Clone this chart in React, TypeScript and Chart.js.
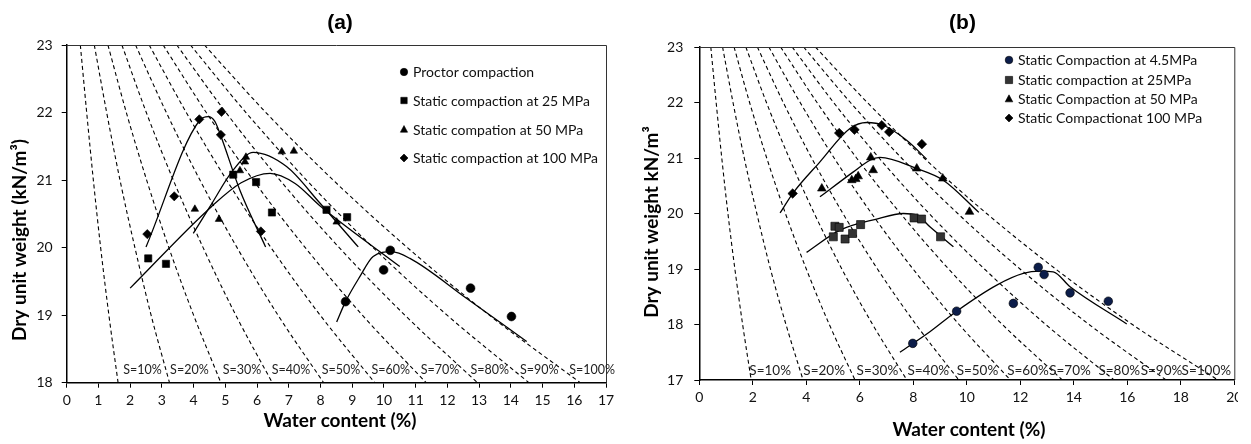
import React, { useEffect, useRef } from 'react';
import Chart from 'chart.js/auto';

const SANS = 'Lato, "Noto Sans", sans-serif';

// ---------- saturation line labels (shared) ----------
const satLabels = ['S=10%', 'S=20%', 'S=30%', 'S=40%', 'S=50%', 'S=60%', 'S=70%', 'S=80%', 'S=90%', 'S=100%'];

// ---------- panel (a) ----------
const gammaLevelsA = [23, 22, 21, 20, 19, 18];
const satLinesA = [
  [0.43, 0.63, 0.84, 1.07, 1.33, 1.62],
  [0.87, 1.26, 1.68, 2.15, 2.66, 3.24],
  [1.30, 1.88, 2.52, 3.22, 4.00, 4.86],
  [1.74, 2.51, 3.36, 4.30, 5.33, 6.48],
  [2.17, 3.14, 4.20, 5.37, 6.66, 8.10],
  [2.60, 3.77, 5.04, 6.44, 7.99, 9.71],
  [3.04, 4.40, 5.88, 7.52, 9.32, 11.33],
  [3.47, 5.02, 6.72, 8.59, 10.66, 12.95],
  [3.90, 5.65, 7.56, 9.66, 11.99, 14.57],
  [4.34, 6.28, 8.40, 10.74, 13.32, 16.19],
];
const satLabelXA = [1.78, 3.26, 4.92, 6.46, 8.04, 9.61, 11.16, 12.73, 14.29, 15.84];
const satLabelYA = 18.19;
const legendA = ['Proctor compaction', 'Static compaction at 25 MPa', 'Static compation at 50 MPa', 'Static compaction at 100 MPa'];

const proctorA_w = [8.79, 9.99, 10.2, 12.73, 14.02];
const proctorA_g = [19.2, 19.67, 19.96, 19.4, 18.98];
const proctorA_cw = [8.51, 8.79, 9.24, 9.66, 10.24, 10.82, 12.6, 14.5];
const proctorA_cg = [18.9, 19.2, 19.57, 19.87, 19.94, 19.84, 19.25, 18.61];

const s25A_w = [2.57, 3.13, 5.25, 5.97, 6.47, 8.19, 8.84];
const s25A_g = [19.84, 19.76, 21.08, 20.97, 20.52, 20.56, 20.45];
const s25A_cw = [2.0, 4.57, 5.5, 6.41, 7.2, 7.98, 10.5];
const s25A_cg = [19.4, 20.61, 20.96, 21.1, 20.95, 20.62, 19.72];

const s50A_w = [4.04, 4.8, 5.46, 5.62, 5.65, 6.78, 7.16, 8.51];
const s50A_g = [20.57, 20.42, 21.14, 21.27, 21.34, 21.42, 21.43, 20.38];
const s50A_cw = [3.99, 4.52, 5.25, 5.88, 6.93, 7.98, 9.19];
const s50A_cg = [20.21, 20.61, 21.15, 21.41, 21.2, 20.66, 20.01];

const s100A_w = [2.54, 3.39, 4.18, 4.88, 4.86, 6.12];
const s100A_g = [20.2, 20.76, 21.9, 22.01, 21.67, 20.24];
const s100A_cw = [2.5, 4.2, 4.46, 4.67, 4.83, 5.46, 6.27];
const s100A_cg = [20.01, 21.89, 21.94, 21.87, 21.69, 20.85, 20.01];

// ---------- panel (b) ----------
const gammaLevelsB = [23, 22, 21, 20, 19, 18, 17];
const satLinesB = [
  [0.43, 0.63, 0.84, 1.07, 1.33, 1.62, 1.94],
  [0.87, 1.26, 1.68, 2.15, 2.66, 3.24, 3.88],
  [1.30, 1.88, 2.52, 3.22, 4.00, 4.86, 5.82],
  [1.74, 2.51, 3.36, 4.30, 5.33, 6.48, 7.76],
  [2.17, 3.14, 4.20, 5.37, 6.66, 8.10, 9.70],
  [2.60, 3.77, 5.04, 6.44, 7.99, 9.71, 11.63],
  [3.04, 4.40, 5.88, 7.52, 9.32, 11.33, 13.57],
  [3.47, 5.02, 6.72, 8.59, 10.66, 12.95, 15.51],
  [3.90, 5.65, 7.56, 9.66, 11.99, 14.57, 17.45],
  [4.34, 6.28, 8.40, 10.74, 13.32, 16.19, 19.39],
];
const satLabelXB = [1.87, 3.89, 5.88, 7.78, 9.62, 11.51, 13.08, 14.92, 16.5, 18.03];
const satLabelYB = 17.17;
const legendB = ['Static Compaction at 4.5MPa', 'Static compaction at 25MPa', 'Static Compaction at 50 MPa', 'Static Compactionat 100 MPa'];

const s45B_w = [7.98, 9.62, 11.74, 12.67, 12.89, 13.86, 15.29];
const s45B_g = [17.66, 18.24, 18.38, 19.03, 18.9, 18.57, 18.42];
const s45B_cw = [7.5, 8.62, 9.62, 11.12, 12.11, 12.74, 13.23, 13.86, 15.98];
const s45B_cg = [17.5, 17.87, 18.24, 18.71, 18.92, 18.96, 18.95, 18.68, 18.01];

const s25B_w = [5.07, 5.23, 5.01, 5.45, 5.73, 6.03, 8.03, 8.31, 9.02];
const s25B_g = [19.77, 19.75, 19.58, 19.54, 19.64, 19.8, 19.92, 19.9, 19.58];
const s25B_cw = [4.01, 5.26, 6.63, 7.63, 8.13, 8.62, 9.5];
const s25B_cg = [19.3, 19.7, 19.9, 20.0, 19.97, 19.76, 19.4];

const s50B_w = [4.58, 5.7, 5.85, 5.94, 6.41, 6.5, 8.13, 9.1, 10.1];
const s50B_g = [20.45, 20.6, 20.62, 20.67, 21.01, 20.78, 20.81, 20.63, 20.03];
const s50B_cw = [4.51, 5.76, 6.38, 6.75, 8.13, 9.12, 10.45];
const s50B_cg = [20.3, 20.75, 20.96, 21.01, 20.81, 20.6, 20.02];

const s100B_w = [3.49, 5.23, 5.8, 6.82, 7.1, 8.32];
const s100B_g = [20.36, 21.45, 21.51, 21.59, 21.47, 21.25];
const s100B_cw = [3.02, 3.49, 4.51, 5.63, 6.26, 6.88, 7.75, 8.5];
const s100B_cg = [20.01, 20.36, 20.93, 21.53, 21.64, 21.59, 21.32, 20.98];

// ---------- helpers ----------
type Series = { w: number[]; g: number[]; cw: number[]; cg: number[]; style: string; radius: number; color: string; lr: number };

const pts = (w: number[], g: number[]) => w.map((x, i) => ({ x, y: g[i] }));

function drawMarker(ctx: CanvasRenderingContext2D, style: string, x: number, y: number, r: number, color: string) {
  ctx.save();
  ctx.fillStyle = color;
  ctx.strokeStyle = '#000';
  ctx.lineWidth = 0.6;
  ctx.beginPath();
  if (style === 'circle') {
    ctx.arc(x, y, r, 0, Math.PI * 2);
  } else if (style === 'rect') {
    ctx.rect(x - r, y - r, 2 * r, 2 * r);
  } else if (style === 'triangle') {
    ctx.moveTo(x, y - r * 1.1);
    ctx.lineTo(x + r, y + r * 0.75);
    ctx.lineTo(x - r, y + r * 0.75);
    ctx.closePath();
  } else {
    ctx.moveTo(x, y - r);
    ctx.lineTo(x + r, y);
    ctx.lineTo(x, y + r);
    ctx.lineTo(x - r, y);
    ctx.closePath();
  }
  ctx.fill();
  ctx.stroke();
  ctx.restore();
}

type Spec = {
  width: number; clipWidth: number; left: number;
  xMin: number; xMax: number; xStep: number; yMin: number; yMax: number;
  yAxisW: number; xAxisH: number; padTop: number; padRight: number; yTickPad: number;
  title: string; titleX: number; titleY: number;
  yTitle: string; yTitleX: number; yTitleY: number;
  xTitle: string; xTitleX: number; xTitleY: number;
  legend: string[]; legMarkX: number; legTextX: number; legRows: number[];
  gammas: number[]; sat: number[][]; satLX: number[]; satLY: number; satFont: number;
  series: Series[];
};

function buildChart(canvas: HTMLCanvasElement, spec: Spec) {
  const datasets: any[] = [];
  spec.series.forEach((s) =>
    datasets.push({
      data: pts(s.w, s.g), showLine: false, pointStyle: s.style, pointRadius: s.radius,
      pointBackgroundColor: s.color, pointBorderColor: '#000', pointBorderWidth: 0.6, order: 0,
    })
  );
  spec.series.forEach((s) =>
    datasets.push({
      data: pts(s.cw, s.cg), showLine: true, pointRadius: 0, borderColor: '#000', borderWidth: 1.3,
      cubicInterpolationMode: 'monotone', order: 1,
    })
  );
  spec.sat.forEach((line) =>
    datasets.push({
      data: line.map((w, i) => ({ x: w, y: spec.gammas[i] })), showLine: true, pointRadius: 0,
      borderColor: '#000', borderWidth: 1.1, borderDash: [4, 3], cubicInterpolationMode: 'monotone', order: 2,
    })
  );

  const overlay = {
    id: 'overlay',
    afterDraw(chart: any) {
      const ctx: CanvasRenderingContext2D = chart.ctx;
      const a = chart.chartArea;
      const xs = chart.scales.x;
      const ys = chart.scales.y;
      ctx.save();
      // plot frame (top/right)
      ctx.strokeStyle = '#333';
      ctx.lineWidth = 1;
      ctx.beginPath();
      ctx.moveTo(a.left, a.top + 0.5);
      ctx.lineTo(a.right + 0.5, a.top + 0.5);
      ctx.lineTo(a.right + 0.5, a.bottom);
      ctx.stroke();
      // saturation labels
      ctx.fillStyle = '#222';
      ctx.font = `${spec.satFont}px ${SANS}`;
      ctx.textAlign = 'left';
      ctx.textBaseline = 'middle';
      satLabels.forEach((t, i) => {
        ctx.fillText(t, xs.getPixelForValue(spec.satLX[i]), ys.getPixelForValue(spec.satLY));
      });
      // title
      ctx.fillStyle = '#000';
      ctx.font = `bold 21px "Liberation Sans", Arial, sans-serif`;
      ctx.textAlign = 'center';
      ctx.fillText(spec.title, spec.titleX, spec.titleY);
      // axis titles
      ctx.font = `bold 19px ${SANS}`;
      ctx.fillText(spec.xTitle, spec.xTitleX, spec.xTitleY);
      ctx.save();
      ctx.translate(spec.yTitleX, spec.yTitleY);
      ctx.rotate(-Math.PI / 2);
      ctx.fillText(spec.yTitle, 0, 0);
      ctx.restore();
      // legend
      ctx.font = `14px ${SANS}`;
      ctx.textAlign = 'left';
      ctx.fillStyle = '#111';
      spec.legend.forEach((t, i) => {
        const s = spec.series[i];
        drawMarker(ctx, s.style, spec.legMarkX, spec.legRows[i], s.lr, s.color);
        ctx.fillStyle = '#111';
        ctx.fillText(t, spec.legTextX, spec.legRows[i] + 0.5);
      });
      ctx.restore();
    },
  };

  return new Chart(canvas, {
    type: 'scatter',
    data: { datasets },
    options: {
      animation: false,
      responsive: false,
      events: [],
      layout: { padding: { top: spec.padTop, right: spec.padRight, left: 0, bottom: 0 } },
      plugins: { legend: { display: false }, tooltip: { enabled: false }, title: { display: false } },
      scales: {
        x: {
          type: 'linear', position: 'bottom', min: spec.xMin, max: spec.xMax,
          ticks: { stepSize: spec.xStep, color: '#111', font: { family: SANS, size: 14 }, padding: 4, maxRotation: 0, autoSkip: false },
          grid: { drawOnChartArea: false, drawTicks: true, tickLength: 5, color: '#000', lineWidth: 1 },
          border: { display: true, color: '#000', width: 1.5 },
          afterFit: (s: any) => { s.height = spec.xAxisH; },
        },
        y: {
          type: 'linear', position: 'left', min: spec.yMin, max: spec.yMax,
          ticks: { stepSize: 1, color: '#111', font: { family: SANS, size: 14 }, padding: spec.yTickPad },
          grid: { drawOnChartArea: false, drawTicks: true, tickLength: 5, color: '#000', lineWidth: 1 },
          border: { display: true, color: '#000', width: 1.5 },
          afterFit: (s: any) => { s.width = spec.yAxisW; },
        },
      },
    },
    plugins: [overlay],
  } as any);
}

const specA: Spec = {
  width: 625, clipWidth: 625, left: 0,
  xMin: 0, xMax: 17, xStep: 1, yMin: 18, yMax: 23,
  yAxisW: 66.7, xAxisH: 61.3, padTop: 45, padRight: 19, yTickPad: 9,
  title: '(a)', titleX: 340, titleY: 23,
  yTitle: 'Dry unit weight (kN/m³)', yTitleX: 20, yTitleY: 240,
  xTitle: 'Water content (%)', xTitleX: 340, xTitleY: 421,
  legend: legendA, legMarkX: 404, legTextX: 413, legRows: [72, 100.5, 129.5, 158],
  gammas: gammaLevelsA, sat: satLinesA, satLX: satLabelXA, satLY: satLabelYA, satFont: 12.5,
  series: [
    { w: proctorA_w, g: proctorA_g, cw: proctorA_cw, cg: proctorA_cg, style: 'circle', radius: 4.4, color: '#000', lr: 3.7 },
    { w: s25A_w, g: s25A_g, cw: s25A_cw, cg: s25A_cg, style: 'rect', radius: 5.1, color: '#000', lr: 3.2 },
    { w: s50A_w, g: s50A_g, cw: s50A_cw, cg: s50A_cg, style: 'triangle', radius: 4.3, color: '#000', lr: 3.6 },
    { w: s100A_w, g: s100A_g, cw: s100A_cw, cg: s100A_cg, style: 'rectRot', radius: 4.6, color: '#000', lr: 4 },
  ],
};

const specB: Spec = {
  width: 626, clipWidth: 613, left: 625,
  xMin: 0, xMax: 20, xStep: 2, yMin: 17, yMax: 23,
  yAxisW: 74.3, xAxisH: 64, padTop: 47, padRight: 16.7, yTickPad: 11,
  title: '(b)', titleX: 337.5, titleY: 23,
  yTitle: 'Dry unit weight kN/m³', yTitleX: 27, yTitleY: 222,
  xTitle: 'Water content (%)', xTitleX: 344, xTitleY: 430,
  legend: legendB, legMarkX: 384, legTextX: 393, legRows: [60, 80, 99, 118],
  gammas: gammaLevelsB, sat: satLinesB, satLX: satLabelXB, satLY: satLabelYB, satFont: 13.5,
  series: [
    { w: s45B_w, g: s45B_g, cw: s45B_cw, cg: s45B_cg, style: 'circle', radius: 4.3, color: '#0c1d4a', lr: 3.8 },
    { w: s25B_w, g: s25B_g, cw: s25B_cw, cg: s25B_cg, style: 'rect', radius: 5.7, color: '#333333', lr: 3.6 },
    { w: s50B_w, g: s50B_g, cw: s50B_cw, cg: s50B_cg, style: 'triangle', radius: 5, color: '#000', lr: 3.8 },
    { w: s100B_w, g: s100B_g, cw: s100B_cw, cg: s100B_cg, style: 'rectRot', radius: 4.8, color: '#000', lr: 4 },
  ],
};

function Panel({ spec }: { spec: Spec }) {
  const ref = useRef<HTMLCanvasElement>(null);
  useEffect(() => {
    if (!ref.current) return;
    const chart = buildChart(ref.current, spec);
    return () => chart.destroy();
  }, [spec]);
  return (
    <div style={{ position: 'absolute', left: spec.left, top: 0, width: spec.clipWidth, height: 444, overflow: 'hidden' }}>
      <canvas ref={ref} width={spec.width} height={444} style={{ width: spec.width, height: 444, display: 'block' }} />
    </div>
  );
}

export default function App() {
  return (
    <div style={{ position: 'absolute', left: 0, top: 0, width: 1251, height: 444, background: '#fff', overflow: 'hidden' }}>
      <Panel spec={specA} />
      <Panel spec={specB} />
    </div>
  );
}
